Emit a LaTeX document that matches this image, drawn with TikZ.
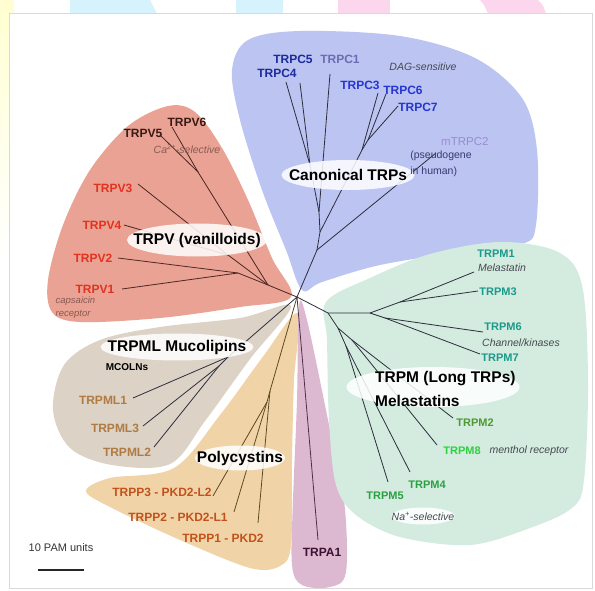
\documentclass[tikz,border=0pt]{standalone}
\usepackage{fontspec}
\setmainfont{Liberation Sans}
\usetikzlibrary{positioning,shapes.geometric}

\definecolor{trpcbg}{HTML}{BCC4F2}
\definecolor{trpvbg}{HTML}{E9A293}
\definecolor{trpmlbg}{HTML}{DCD2C6}
\definecolor{trppbg}{HTML}{F1D3A8}
\definecolor{trpabg}{HTML}{DDB9D1}
\definecolor{trpmbg}{HTML}{D4ECDF}
\definecolor{branchgray}{HTML}{2C2E3C}
\definecolor{branchbrown}{HTML}{4A2622}
\definecolor{brancholive}{HTML}{5C4A22}
\definecolor{branchplum}{HTML}{4E3046}
\definecolor{cnavy}{HTML}{1C2A9A}
\definecolor{cblue}{HTML}{2536D2}
\definecolor{cslate}{HTML}{6C6CB4}
\definecolor{clilac}{HTML}{9A8CD2}
\definecolor{vdark}{HTML}{3A1A14}
\definecolor{vred}{HTML}{E3321E}
\definecolor{mltan}{HTML}{B07B42}
\definecolor{pkdorange}{HTML}{C2521C}
\definecolor{mteal}{HTML}{1A9A8A}
\definecolor{molive}{HTML}{4E9A32}
\definecolor{mlime}{HTML}{2ED040}
\definecolor{mgreen}{HTML}{2AA042}
\definecolor{aplum}{HTML}{3A1232}
\definecolor{notegray}{HTML}{45484F}
\definecolor{noterust}{HTML}{8A5A52}

\tikzset{
  leaf/.style={font=\fontsize{12}{13}\selectfont\bfseries, inner sep=0pt},
  leafm/.style={font=\fontsize{11}{12}\selectfont\bfseries, inner sep=0pt},
  note/.style={font=\fontsize{10.5}{13}\selectfont\itshape, text=notegray, inner sep=0pt},
  groupbg/.style={ellipse, fill=white, fill opacity=.85, inner sep=0pt},
  grouptext/.style={font=\fontsize{15.5}{24}\selectfont\bfseries, inner sep=0pt},
  branch/.style={draw=branchgray, line width=.8pt},
}

\begin{document}
\begin{tikzpicture}[x=1pt,y=-1pt]
  \useasboundingbox (0,0) rectangle (595,591);
  % page around the figure
  \fill[white] (0,0) rectangle (595,591);
  \shade[top color=yellow!18, bottom color=white] (0,0) rectangle (9,260);
  \fill[yellow!18] (0,0) rectangle (14,14);
  \fill[cyan!16] (70,0) -- (150,0) -- (157,14) -- (70,14) -- cycle;
  \fill[cyan!16] (236,0) rectangle (283,14);
  \fill[magenta!16] (338,0) rectangle (390,14);
  \fill[magenta!16] (480,0) -- (538,0) .. controls (543,5) .. (546,14) -- (488,14) .. controls (485,6) .. cycle;
  \draw[black!15, line width=1pt, fill=white] (9,14) rectangle (592,588);

  % subfamily areas
  \fill[trpcbg] plot[smooth cycle, tension=.55] coordinates {(302,290) (286,250) (262,190) (240,120) (232,70) (248,40) (300,31) (400,36) (475,58) (522,98) (537,150) (536,225) (522,244) (460,252) (380,265) (322,282)};
  \fill[trpvbg] plot[smooth cycle, tension=.55] coordinates {(291,297) (272,258) (248,200) (222,148) (195,112) (168,106) (128,126) (90,170) (63,225) (48,280) (52,312) (80,322) (160,318) (240,307)};
  \fill[trpmlbg] plot[smooth cycle, tension=.55] coordinates {(291,306) (240,318) (160,327) (100,340) (64,365) (53,410) (70,448) (112,465) (170,464) (205,421) (250,359)};
  \fill[trppbg] plot[smooth cycle, tension=.55] coordinates {(298,313) (294,380) (292,460) (291,545) (280,566) (250,568) (180,540) (110,507) (86,491) (110,478) (174,468) (220,415) (262,358)};
  \fill[trpabg] plot[smooth cycle, tension=.55] coordinates {(299,306) (297,400) (293,500) (292,565) (302,585) (330,587) (346,572) (344,500) (328,420) (307,320)};
  \fill[trpmbg] plot[smooth cycle, tension=.55] coordinates {(326,302) (370,278) (430,254) (500,242) (558,252) (582,285) (588,380) (584,480) (572,508) (530,528) (470,545) (400,537) (356,515) (336,485) (329,420) (327,340)};

  % tree
  \coordinate (root) at (297,297);

  \coordinate (cbase) at (317,250);
  \coordinate (cmid) at (320,232);
  \coordinate (c145) at (319,212);
  \coordinate (c45) at (310,165);
  \coordinate (c367) at (362,150);
  \coordinate (c67) at (368,140);
  \coordinate (tipC4) at (286,82);
  \coordinate (tipC5) at (300,83);
  \coordinate (tipC1) at (330,74);
  \coordinate (tipC3) at (378,93);
  \coordinate (tipC6) at (386,94);
  \coordinate (tipC7) at (398,106);
  \coordinate (tipC2) at (436,153);

  \coordinate (vbase) at (268,285);
  \coordinate (v12) at (238,273);
  \coordinate (v34) at (228,255);
  \coordinate (v56) at (198,172);
  \coordinate (tipV1) at (122,289);
  \coordinate (tipV2) at (118,258);
  \coordinate (tipV3) at (138,184);
  \coordinate (tipV4) at (124,225);
  \coordinate (tipV5) at (160,135);
  \coordinate (tipV6) at (172,127);

  \coordinate (mlbase) at (228,357);
  \coordinate (ml23) at (219,366);
  \coordinate (tipML1) at (133,398);
  \coordinate (tipML3) at (143,426);
  \coordinate (tipML2) at (154,447);

  \coordinate (pbase) at (270,391);
  \coordinate (p23) at (267,402);
  \coordinate (tipP3) at (213,496);
  \coordinate (tipP2) at (234,512);
  \coordinate (tipP1) at (258,523);

  \coordinate (tipA1) at (318,540);

  \coordinate (mbase) at (328,313);
  \coordinate (m3467) at (370,313);
  \coordinate (m13) at (400,302);
  \coordinate (m67) at (385,318);
  \coordinate (m2458) at (338,328);
  \coordinate (m28) at (352,340);
  \coordinate (m45) at (346,346);
  \coordinate (tipM1) at (474,272);
  \coordinate (tipM3) at (478,291);
  \coordinate (tipM6) at (483,332);
  \coordinate (tipM7) at (480,354);
  \coordinate (tipM2) at (453,418);
  \coordinate (tipM8) at (437,445);
  \coordinate (tipM4) at (410,472);
  \coordinate (tipM5) at (388,482);

  \draw[branch] (root) -- (cbase) -- (cmid) -- (c145) -- (c45) -- (tipC4);
  \draw[branch] (c45) -- (tipC5);
  \draw[branch] (c145) -- (tipC1);
  \draw[branch] (cmid) -- (c367) -- (tipC3);
  \draw[branch] (c367) -- (c67) -- (tipC6);
  \draw[branch] (c67) -- (tipC7);
  \draw[branch] (cbase) -- (tipC2);

  \draw[branch, draw=branchbrown] (root) -- (vbase) -- (v12) -- (tipV1);
  \draw[branch, draw=branchbrown] (v12) -- (tipV2);
  \draw[branch, draw=branchbrown] (vbase) -- (v34) -- (tipV3);
  \draw[branch, draw=branchbrown] (v34) -- (tipV4);
  \draw[branch, draw=branchbrown] (vbase) -- (v56) -- (tipV5);
  \draw[branch, draw=branchbrown] (v56) -- (tipV6);

  \draw[branch] (root) -- (mlbase) -- (tipML1);
  \draw[branch] (mlbase) -- (ml23) -- (tipML3);
  \draw[branch] (ml23) -- (tipML2);

  \draw[branch, draw=brancholive] (root) -- (pbase) -- (tipP1);
  \draw[branch, draw=brancholive] (pbase) -- (p23) -- (tipP3);
  \draw[branch, draw=brancholive] (p23) -- (tipP2);

  \draw[branch, draw=branchplum] (root) -- (tipA1);

  \draw[branch] (root) -- (mbase) -- (m3467) -- (m13) -- (tipM1);
  \draw[branch] (m13) -- (tipM3);
  \draw[branch] (m3467) -- (m67) -- (tipM6);
  \draw[branch] (m67) -- (tipM7);
  \draw[branch] (mbase) -- (m2458) -- (m28) -- (tipM2);
  \draw[branch] (m28) -- (tipM8);
  \draw[branch] (m2458) -- (m45) -- (tipM4);
  \draw[branch] (m45) -- (tipM5);

  % subfamily names
  \node[groupbg, minimum width=133pt, minimum height=30pt] (cgrp) at (348,175) {};
  \node[grouptext] at (cgrp) {Canonical TRPs};
  \node[groupbg, minimum width=140pt, minimum height=33pt] (vgrp) at (197,240) {};
  \node[grouptext] at (vgrp) {TRPV (vanilloids)};
  \node[groupbg, minimum width=153pt, minimum height=27pt] (mlgrp) at (177,347) {};
  \node[grouptext] at (mlgrp) {TRPML Mucolipins};
  \node[groupbg, minimum width=90pt, minimum height=25pt] (pgrp) at (240,458) {};
  \node[grouptext] at (pgrp) {Polycystins};
  \node[groupbg, minimum width=173pt, minimum height=40pt] (mgrp) at (433,387) {};
  \node[grouptext, align=left, anchor=west] at (375,389) {TRPM (Long TRPs)\\Melastatins};
  \node[groupbg, minimum width=63pt, minimum height=17pt] (nagrp) at (423,516) {};
  \node[note] at (nagrp) {Na\textsuperscript{+}-selective};

  % leaves
  \node[leaf, text=cnavy] (trpc5) at (293,59) {TRPC5};
  \node[leaf, text=cnavy] (trpc4) at (277,73) {TRPC4};
  \node[leaf, text=cslate] (trpc1) at (340,59) {TRPC1};
  \node[leaf, text=cblue] (trpc3) at (360,85) {TRPC3};
  \node[leaf, text=cblue] (trpc6) at (403,90) {TRPC6};
  \node[leaf, text=cblue] (trpc7) at (418,107) {TRPC7};
  \node[note] (dag) at (423,67) {DAG-sensitive};
  \node[inner sep=0pt, anchor=west, font=\fontsize{11.5}{13}\selectfont, text=clilac] (mtrpc2) at (441,142) {mTRPC2};
  \node[inner sep=0pt, anchor=north west, align=left, font=\fontsize{10.5}{16}\selectfont, text=notegray!80!blue] (pseudo) [below=4pt of mtrpc2.south west] {(pseudogene\\in human)};

  \node[leaf, text=vdark] (trpv6) at (187,122) {TRPV6};
  \node[leaf, text=vdark] (trpv5) at (143,133) {TRPV5};
  \node[note, text=noterust] (casel) at (187,149) {Ca\textsuperscript{2+}-selective};
  \node[leaf, text=vred] (trpv3) at (113,188) {TRPV3};
  \node[leaf, text=vred] (trpv4) at (102,225) {TRPV4};
  \node[leaf, text=vred] (trpv2) at (93,258) {TRPV2};
  \node[leaf, text=vred] (trpv1) at (95,289) {TRPV1};
  \node[note, text=noterust, font=\fontsize{9.5}{13}\selectfont\itshape, align=left, anchor=north west] (caps) [below=3pt of trpv1.south west] {capsaicin\\receptor};

  \node[inner sep=0pt, font=\fontsize{10}{12}\selectfont\bfseries] (mcoln) at (127,367) {MCOLNs};
  \node[leaf, text=mltan] (trpml1) at (103,400) {TRPML1};
  \node[leaf, text=mltan] (trpml3) at (115,428) {TRPML3};
  \node[leaf, text=mltan] (trpml2) at (127,452) {TRPML2};

  \node[leaf, text=pkdorange] (trpp3) at (162,492) {TRPP3 - PKD2-L2};
  \node[leaf, text=pkdorange] (trpp2) at (178,517) {TRPP2 - PKD2-L1};
  \node[leaf, text=pkdorange] (trpp1) at (223,538) {TRPP1 - PKD2};

  \node[leaf, text=aplum] (trpa1) at (322,552) {TRPA1};

  \node[leafm, text=mteal] (trpm1) at (496,254) {TRPM1};
  \node[note] (melast) at (502,268) {Melastatin};
  \node[leafm, text=mteal] (trpm3) at (498,292) {TRPM3};
  \node[leafm, text=mteal] (trpm6) at (503,327) {TRPM6};
  \node[note] (chkin) at (521,343) {Channel/kinases};
  \node[leafm, text=mteal] (trpm7) at (500,358) {TRPM7};
  \node[leafm, text=molive] (trpm2) at (475,423) {TRPM2};
  \node[leafm, text=mlime] (trpm8) at (462,451) {TRPM8};
  \node[note] (menthol) at (529,451) {menthol receptor};
  \node[leafm, text=mgreen] (trpm4) at (427,485) {TRPM4};
  \node[leafm, text=mgreen] (trpm5) at (385,496) {TRPM5};

  % scale
  \node[inner sep=0pt, font=\fontsize{11}{12}\selectfont, text=black!80] (pam) at (61,548) {10 PAM units};
  \coordinate (barl) at (38,570);
  \coordinate (barr) at (84,570);
  \draw[line width=2pt, black!85] (barl) -- (barr);
\end{tikzpicture}
\end{document}
